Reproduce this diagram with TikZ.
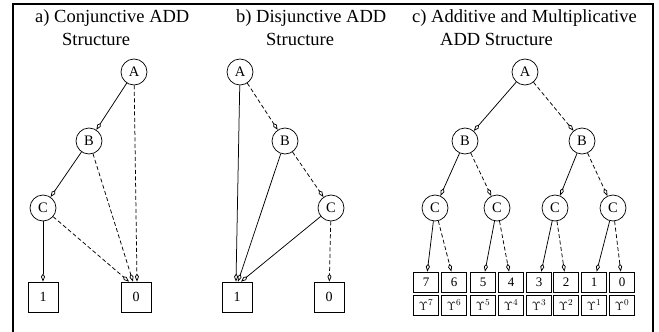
\documentclass[tikz,border=0pt]{standalone}
\usepackage{fontspec}
\setmainfont{Liberation Serif}
\usetikzlibrary{arrows.meta}
\tikzset{
  vnode/.style={circle,draw,line width=0.7pt,minimum size=26pt,inner sep=0pt,font=\fontsize{14.5}{16}\selectfont},
  leaf/.style={rectangle,draw,line width=0.7pt,minimum width=30pt,minimum height=30pt,inner sep=0pt,font=\fontsize{14}{16}\selectfont},
  smallleaf/.style={rectangle,draw,line width=0.7pt,minimum width=25pt,minimum height=20pt,inner sep=0pt,font=\fontsize{13}{15}\selectfont},
  hi/.style={-{Kite[open,length=8pt,width=4pt,inset=3pt]},line width=0.75pt},
  lo/.style={hi,dash pattern=on 4pt off 2.5pt},
  title/.style={anchor=north west,align=left,inner sep=0pt,font=\fontsize{18.5}{23}\selectfont}
}
\begin{document}
\begin{tikzpicture}[x=1pt,y=-1pt]
  \useasboundingbox (0,0) rectangle (659,332);
  % frame
  \draw[line width=2.5pt] (13,332) |- (653,4) -- (653,332);

  % a) conjunctive
  \node[title] (atitle) at (35,9) {a) Conjunctive ADD\\\hspace*{27pt}Structure};
  \node[vnode] (aA) at (134,72) {A};
  \node[vnode] (aB) at (89,141) {B};
  \node[vnode] (aC) at (43,208) {C};
  \node[leaf] (a1) at (43,297) {1};
  \node[leaf] (a0) at (136,297) {0};
  \draw[hi] (aA) -- (aB);
  \draw[lo] (aA) -- ([xshift=1pt]a0.north);
  \draw[hi] (aB) -- (aC);
  \draw[lo] (aB) -- ([xshift=-3pt]a0.north);
  \draw[hi] (aC) -- (a1);
  \draw[lo] (aC) -- ([xshift=-7pt]a0.north);

  % b) disjunctive
  \node[title] (btitle) at (236,9) {b) Disjunctive ADD\\\hspace*{30pt}Structure};
  \node[vnode] (bA) at (240,72) {A};
  \node[vnode] (bB) at (285,141) {B};
  \node[vnode] (bC) at (331,208) {C};
  \node[leaf] (b1) at (237,297) {1};
  \node[leaf] (b0) at (329,297) {0};
  \draw[hi] (bA) -- ([xshift=-1pt]b1.north);
  \draw[lo] (bA) -- (bB);
  \draw[hi] (bB) -- ([xshift=1pt]b1.north);
  \draw[lo] (bB) -- (bC);
  \draw[hi] (bC) -- ([xshift=4pt]b1.north);
  \draw[lo] (bC) -- (b0);

  % c) additive and multiplicative
  \node[title] (ctitle) at (412,9) {c) Additive and Multiplicative\\\hspace*{28pt}ADD Structure};
  \node[vnode] (cA) at (525,72) {A};
  \node[vnode] (cB1) at (465,141) {B};
  \node[vnode] (cB2) at (582,141) {B};
  \node[vnode] (cC1) at (435,208) {C};
  \node[vnode] (cC2) at (497,208) {C};
  \node[vnode] (cC3) at (555,208) {C};
  \node[vnode] (cC4) at (613,208) {C};
  \foreach \v/\x in {7/426,6/454,5/483,4/511,3/539,2/566,1/594,0/622} {
    \node[smallleaf] (v\v) at (\x,282) {\v};
    \node[smallleaf] (g\v) at (\x,305) {$\Upsilon^{\v}$};
  }
  \draw[hi] (cA) -- (cB1);
  \draw[lo] (cA) -- (cB2);
  \draw[hi] (cB1) -- (cC1);
  \draw[lo] (cB1) -- (cC2);
  \draw[hi] (cB2) -- (cC3);
  \draw[lo] (cB2) -- (cC4);
  \draw[hi] (cC1) -- (v7);
  \draw[lo] (cC1) -- (v6);
  \draw[hi] (cC2) -- (v5);
  \draw[lo] (cC2) -- (v4);
  \draw[hi] (cC3) -- (v3);
  \draw[lo] (cC3) -- (v2);
  \draw[hi] (cC4) -- (v1);
  \draw[lo] (cC4) -- (v0);
\end{tikzpicture}
\end{document}
